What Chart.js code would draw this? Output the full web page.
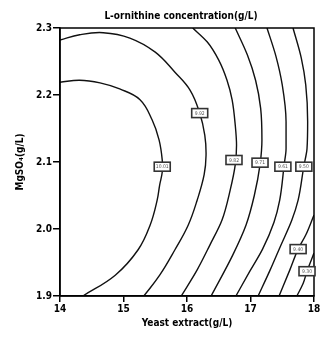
<!DOCTYPE html>
<html>
<head>
<meta charset="utf-8">
<script src="https://cdn.jsdelivr.net/npm/chart.js@4"></script>
<style>
  html, body { margin: 0; padding: 0; background: #fff; }
  #wrap { width: 332px; height: 342px; }
</style>
</head>
<body>
<div id="wrap"><canvas id="chart"></canvas></div>
<script>
// contour lines, [yeast extract, MgSO4]
const contour1 = [[14.00, 2.219], [14.31, 2.222], [14.63, 2.218], [14.94, 2.209], [15.26, 2.193], [15.45, 2.163], [15.56, 2.133], [15.61, 2.103], [15.61, 2.085], [15.57, 2.066], [15.53, 2.043], [15.42, 2.006], [15.23, 1.969], [14.87, 1.931], [14.36, 1.900]];
const contour2 = [[14.00, 2.282], [14.31, 2.290], [14.68, 2.293], [15.10, 2.285], [15.50, 2.264], [15.81, 2.234], [16.05, 2.207], [16.20, 2.173], [16.28, 2.140], [16.30, 2.110], [16.27, 2.081], [16.16, 2.043], [16.02, 2.006], [15.81, 1.969], [15.57, 1.931], [15.32, 1.900]];
const contour3 = [[16.09, 2.300], [16.32, 2.279], [16.50, 2.252], [16.63, 2.222], [16.71, 2.193], [16.76, 2.155], [16.78, 2.125], [16.76, 2.096], [16.68, 2.058], [16.55, 2.013], [16.36, 1.976], [16.16, 1.939], [15.91, 1.900]];
const contour4 = [[16.76, 2.300], [16.95, 2.260], [17.08, 2.222], [17.16, 2.180], [17.18, 2.133], [17.15, 2.096], [17.06, 2.050], [16.93, 2.006], [16.72, 1.961], [16.38, 1.900]];
const contour5 = [[17.26, 2.300], [17.40, 2.258], [17.50, 2.215], [17.56, 2.160], [17.56, 2.120], [17.53, 2.096], [17.46, 2.043], [17.37, 2.010], [17.19, 1.970], [16.99, 1.937], [16.77, 1.900]];
const contour6 = [[17.67, 2.300], [17.80, 2.255], [17.87, 2.215], [17.90, 2.160], [17.89, 2.120], [17.84, 2.094], [17.75, 2.043], [17.65, 2.013], [17.47, 1.974], [17.31, 1.939], [17.12, 1.900]];
const contour7 = [[18.00, 2.021], [17.87, 1.991], [17.75, 1.970], [17.62, 1.939], [17.45, 1.900]];
const contour8 = [[18.00, 1.964], [17.89, 1.937], [17.83, 1.919], [17.73, 1.900]];

// contour labels (text too small to read, values estimated)
const labelText = ['10.01', '9.92', '9.82', '9.71', '9.61', '9.50', '9.40', '9.30'];
const labelX = [15.61, 16.20, 16.74, 17.15, 17.51, 17.84, 17.75, 17.89];
const labelY = [2.093, 2.173, 2.103, 2.099, 2.093, 2.093, 1.970, 1.937];

const xTicks = [14, 15, 16, 17, 18];
const yTicks = [1.9, 2.0, 2.1, 2.2, 2.3];

const chartTitle = 'L-ornithine concentration(g/L)';
const xTitle = 'Yeast extract(g/L)';
const yTitle = 'MgSO\u2084(g/L)';

const FONT = '"DejaVu Sans Condensed", "DejaVu Sans", sans-serif';

const contours = [contour1, contour2, contour3, contour4, contour5, contour6, contour7, contour8];

// the two left arcs fold back in y, the rest are smooth in y
const datasets = contours.map((c, i) => {
    const ds = {
        label: 'c' + (i + 1),
        data: c.map(p => ({ x: p[0], y: p[1] })),
        showLine: true,
        borderColor: '#111',
        borderWidth: 1.4,
        pointRadius: 0,
        fill: false
    };
    if (i < 2) {
        ds.tension = 0.4;
    } else {
        ds.indexAxis = 'y';
        ds.cubicInterpolationMode = 'monotone';
    }
    return ds;
});

// frame, contour labels, title
const decorPlugin = {
    id: 'decor',
    afterDatasetsDraw(chart) {
        const { ctx, chartArea: a, scales } = chart;
        ctx.save();
        ctx.strokeStyle = '#000';
        ctx.lineWidth = 1.5;
        ctx.strokeRect(a.left, a.top, a.right - a.left, a.bottom - a.top);

        ctx.font = '5px ' + FONT;
        ctx.textAlign = 'center';
        ctx.textBaseline = 'middle';
        labelText.forEach((t, i) => {
            const px = scales.x.getPixelForValue(labelX[i]);
            const py = scales.y.getPixelForValue(labelY[i]);
            const w = 16, h = 9;
            ctx.fillStyle = '#fff';
            ctx.fillRect(px - w / 2, py - h / 2, w, h);
            ctx.strokeStyle = '#333';
            ctx.lineWidth = 1.6;
            ctx.strokeRect(px - w / 2, py - h / 2, w, h);
            ctx.fillStyle = '#555';
            ctx.fillText(t, px, py + 0.5);
        });

        ctx.fillStyle = '#000';
        ctx.font = 'bold 10px ' + FONT;
        ctx.fillText(chartTitle, 181, 16);
        ctx.restore();
    }
};

const ctx = document.getElementById('chart').getContext('2d');
new Chart(ctx, {
    type: 'scatter',
    data: { datasets },
    options: {
        responsive: true,
        maintainAspectRatio: false,
        animation: false,
        devicePixelRatio: 1,
        layout: { padding: { left: 0, right: 18, top: 28, bottom: 0 } },
        plugins: {
            legend: { display: false },
            tooltip: { enabled: false },
            title: { display: false }
        },
        scales: {
            x: {
                type: 'linear',
                min: 14,
                max: 18,
                afterFit: s => { s.height = 46; },
                afterBuildTicks: s => { s.ticks = xTicks.map(v => ({ value: v })); },
                grid: { display: true, drawOnChartArea: false, drawTicks: true, tickLength: 6, color: '#000', lineWidth: 1.5 },
                border: { display: true, color: '#000', width: 1.5 },
                ticks: { color: '#000', padding: 1, maxRotation: 0, font: { family: FONT, size: 10, weight: 'bold' } },
                title: { display: true, text: xTitle, color: '#000', padding: { top: 0, bottom: 13 }, font: { family: FONT, size: 10, weight: 'bold' } }
            },
            y: {
                type: 'linear',
                min: 1.9,
                max: 2.3,
                afterFit: s => { s.width = 60; },
                afterBuildTicks: s => { s.ticks = yTicks.map(v => ({ value: v })); },
                grid: { display: true, drawOnChartArea: false, drawTicks: true, tickLength: 7, color: '#000', lineWidth: 1.5 },
                border: { display: true, color: '#000', width: 1.5 },
                ticks: { color: '#000', padding: 1, callback: v => v.toFixed(1), font: { family: FONT, size: 10, weight: 'bold' } },
                title: { display: true, text: yTitle, color: '#000', padding: { top: 14, bottom: 0 }, font: { family: FONT, size: 10, weight: 'bold' } }
            }
        }
    },
    plugins: [decorPlugin]
});
</script>
</body>
</html>
